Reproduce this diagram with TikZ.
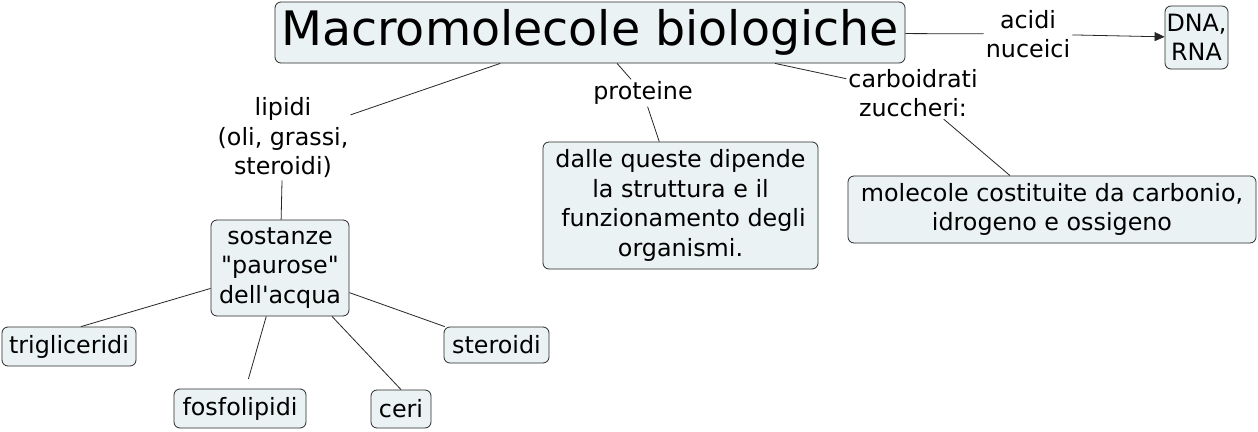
\documentclass[tikz,border=0pt]{standalone}
\usepackage{fontspec}
\newfontfamily\vf{DejaVu Sans}
\usetikzlibrary{arrows.meta}
\definecolor{boxfill}{HTML}{EBF2F4}
\definecolor{edge}{HTML}{2A2A2A}
\begin{document}
\begin{tikzpicture}[x=1pt,y=-1pt,
  txt/.style={font=\vf\fontsize{23.8}{29.5}\selectfont},
  box/.style={txt, draw=edge, fill=boxfill, rounded corners=6pt, line width=0.8pt, align=center, inner sep=0pt},
  lab/.style={txt, align=center, inner sep=2pt},
  conn/.style={draw=black!85, line width=0.8pt}]
\useasboundingbox (0,0) rectangle (1258,431);
\fill[white] (0,0) rectangle (1258,431);

\node[box, minimum width=630pt, minimum height=61pt, font=\vf\fontsize{47.5}{50}\selectfont] (title) at (590,32.5) {Macromolecole biologiche};
\node[box, minimum width=63pt, minimum height=63pt] (dna) at (1196.5,37.5) {DNA,\\RNA};
\node[lab] (acidi) at (1028,34) {acidi\\nuceici};
\node[lab] (carbo) at (913,93) {carboidrati\\zuccheri:};
\node[box, minimum width=408pt, minimum height=67pt] (molec) at (1052,209.5) {molecole costituite da carbonio,\\idrogeno e ossigeno};
\node[lab] (prot) at (643,93) {proteine};
\node[box, minimum width=275pt, minimum height=127pt] (dalle) at (680.5,205.5) {dalle queste dipende\hspace{6pt}\\la struttura e il\\\hspace{6pt}funzionamento degli\\organismi.};
\node[lab] (lipidi) at (283,138) {lipidi\\(oli, grassi,\\steroidi)};
\node[box, minimum width=138pt, minimum height=96pt] (sost) at (280,268) {sostanze\\"paurose"\\dell'acqua};
\node[box, minimum width=134pt, minimum height=39pt] (trig) at (69,346.5) {trigliceridi};
\node[box, minimum width=132pt, minimum height=39pt] (fosfo) at (240,408.5) {fosfolipidi};
\node[box, minimum width=60pt, minimum height=38pt] (ceri) at (401,409) {ceri};
\node[box, minimum width=105pt, minimum height=36pt] (ster) at (496.5,345) {steroidi};

\draw[conn] (title) -- (acidi);
\draw[conn, -{Triangle[length=10pt,width=9pt]}] (acidi) -- (dna);
\draw[conn] ([xshift=185pt]title.south) -- (carbo);
\draw[conn] (carbo) -- ([xshift=-42pt]molec.north);
\draw[conn] (title) -- (prot);
\draw[conn] (prot) -- (dalle);
\draw[conn] (title) -- (lipidi);
\draw[conn] (lipidi) -- (sost);
\draw[conn] (sost) -- ([xshift=12pt]trig.north);
\draw[conn, shorten >=10pt] (sost) -- (fosfo);
\draw[conn] ([xshift=52pt]sost.south) -- (ceri.north);
\draw[conn] (sost) -- (ster);
\end{tikzpicture}
\end{document}
